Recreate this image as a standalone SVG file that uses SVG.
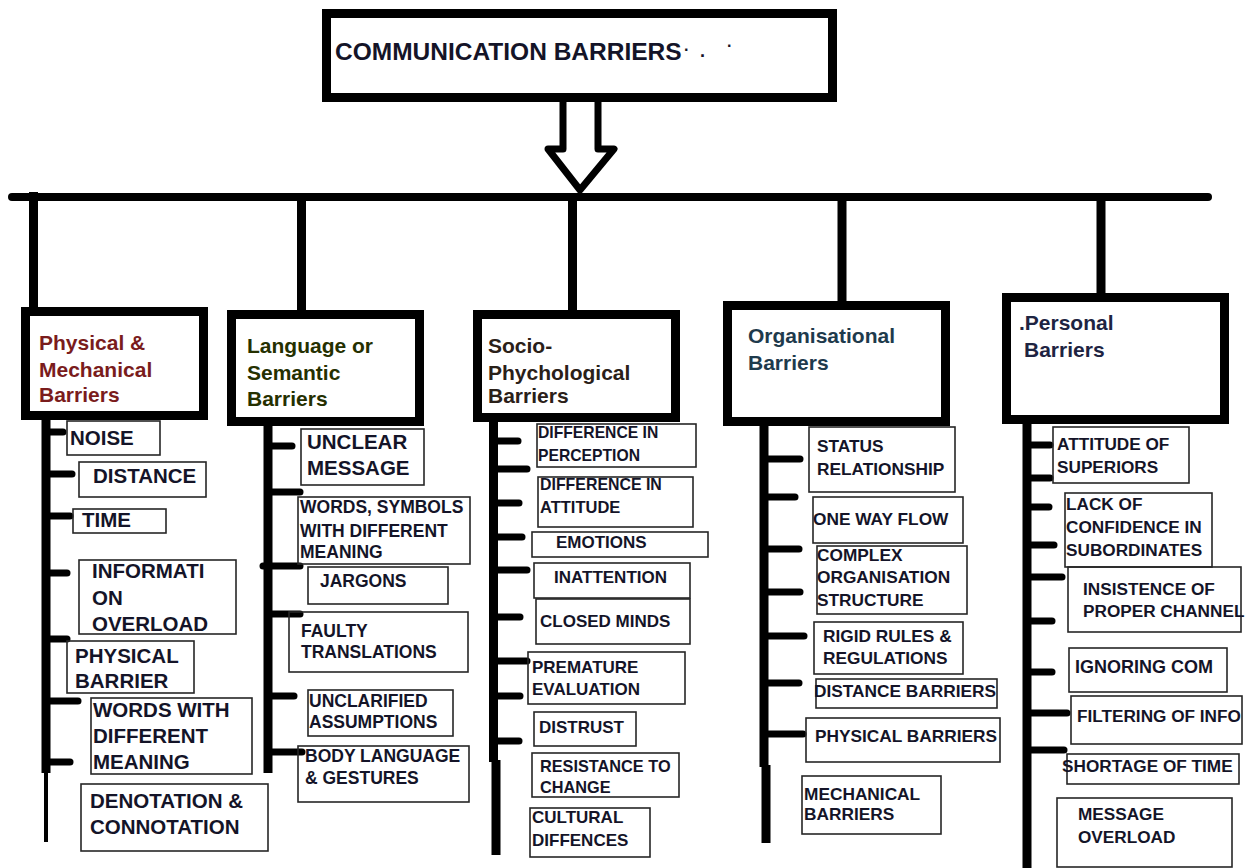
<svg xmlns="http://www.w3.org/2000/svg" width="1245" height="868" viewBox="0 0 1245 868">
<style>
.bx{fill:#fff;stroke:#000;stroke-width:9}
.sb{fill:none;stroke:#262626;stroke-width:1.6}
.stem{stroke:#000;stroke-width:9;fill:none}
.stub{stroke:#000;stroke-width:7;stroke-linecap:round}
.t{font-family:"Liberation Sans",Arial,sans-serif;font-weight:bold;fill:#141428}
.h{font-size:21px}
.c1{font-size:20.5px}
.c2{font-size:17.5px}
.c3{font-size:17px}
.c4{font-size:17.3px}
.c5{font-size:17.2px}
</style>
<rect width="1245" height="868" fill="#fff"/>
<g id="connectors">
  <line x1="12" y1="197" x2="1208" y2="197" stroke="#000" stroke-width="8" stroke-linecap="round"/>
  <line class="stem" x1="33.5" y1="192" x2="33.5" y2="308"/>
  <line class="stem" x1="301.5" y1="197" x2="301.5" y2="311"/>
  <line class="stem" x1="572.5" y1="197" x2="572.5" y2="311"/>
  <line class="stem" x1="842" y1="197" x2="842" y2="302"/>
  <line class="stem" x1="1101" y1="197" x2="1101" y2="294"/>
  <path d="M563,102 L563,149 L548,149 L580,190 L614,149 L598,149 L598,102" fill="#fff" stroke="#000" stroke-width="7" stroke-linejoin="round"/>
  <!-- stems -->
  <line class="stem" x1="46" y1="420" x2="46" y2="773" stroke-width="8"/>
  <line x1="46" y1="773" x2="46" y2="842" stroke="#000" stroke-width="4"/>
  <line class="stem" x1="268" y1="426" x2="268" y2="773"/>
  <line class="stem" x1="493.5" y1="422" x2="493.5" y2="762"/>
  <line class="stem" x1="496" y1="760" x2="496" y2="855" stroke-width="11"/>
  <line class="stem" x1="764" y1="426" x2="764" y2="767"/>
  <line class="stem" x1="766" y1="765" x2="766" y2="843" stroke-width="11"/>
  <line class="stem" x1="1027" y1="424" x2="1027" y2="868" stroke-width="10"/>
  <!-- stubs cat1 -->
  <line class="stub" x1="46" y1="432" x2="63" y2="432"/>
  <line class="stub" x1="46" y1="474" x2="72" y2="474"/>
  <line class="stub" x1="46" y1="516" x2="70" y2="516"/>
  <line class="stub" x1="46" y1="573" x2="67" y2="573"/>
  <line class="stub" x1="46" y1="639" x2="67" y2="639"/>
  <line class="stub" x1="46" y1="701" x2="78" y2="701"/>
  <line class="stub" x1="46" y1="762" x2="70" y2="762"/>
  <!-- stubs cat2 -->
  <line class="stub" x1="268" y1="446" x2="292" y2="446"/>
  <line class="stub" x1="268" y1="492" x2="300" y2="492"/>
  <line class="stub" x1="263" y1="566" x2="300" y2="566"/>
  <line class="stub" x1="268" y1="614" x2="300" y2="614"/>
  <line class="stub" x1="268" y1="696" x2="294" y2="696"/>
  <line class="stub" x1="268" y1="752" x2="302" y2="752"/>
  <!-- stubs cat3 -->
  <line class="stub" x1="494" y1="441" x2="518" y2="441"/>
  <line class="stub" x1="494" y1="469" x2="527" y2="469"/>
  <line class="stub" x1="494" y1="503" x2="519" y2="503"/>
  <line class="stub" x1="494" y1="537" x2="522" y2="537"/>
  <line class="stub" x1="494" y1="570" x2="527" y2="570"/>
  <line class="stub" x1="494" y1="617" x2="520" y2="617"/>
  <line class="stub" x1="494" y1="661" x2="527" y2="661"/>
  <line class="stub" x1="494" y1="696" x2="520" y2="696"/>
  <line class="stub" x1="494" y1="741" x2="519" y2="741"/>
  <!-- stubs cat4 -->
  <line class="stub" x1="764" y1="459" x2="800" y2="459"/>
  <line class="stub" x1="764" y1="497" x2="795" y2="497"/>
  <line class="stub" x1="764" y1="549" x2="799" y2="549"/>
  <line class="stub" x1="764" y1="592" x2="800" y2="592"/>
  <line class="stub" x1="764" y1="636" x2="804" y2="636"/>
  <line class="stub" x1="764" y1="683" x2="799" y2="683"/>
  <line class="stub" x1="764" y1="734" x2="803" y2="734"/>
  <!-- stubs cat5 -->
  <line class="stub" x1="1027" y1="445" x2="1050" y2="445"/>
  <line class="stub" x1="1027" y1="478" x2="1050" y2="478"/>
  <line class="stub" x1="1027" y1="507" x2="1049" y2="507"/>
  <line class="stub" x1="1027" y1="545" x2="1054" y2="545"/>
  <line class="stub" x1="1027" y1="577" x2="1062" y2="577"/>
  <line class="stub" x1="1027" y1="621" x2="1052" y2="621"/>
  <line class="stub" x1="1027" y1="672" x2="1052" y2="672"/>
  <line class="stub" x1="1027" y1="713" x2="1067" y2="713"/>
  <line class="stub" x1="1027" y1="750" x2="1064" y2="750"/>
</g>

<g id="title">
  <rect class="bx" x="326.5" y="13.5" width="506" height="84"/>
  <text class="t" x="335" y="60" font-size="24.5" fill="#111122">COMMUNICATION BARRIERS</text>
  <text class="t" x="684" y="55" font-size="16">·</text>
  <text class="t" x="700" y="57" font-size="18">.</text>
  <text class="t" x="727" y="47" font-size="16">.</text>
</g>

<g id="cat-physical">
  <rect class="bx" x="25.5" y="311.5" width="178" height="104"/>
  <text class="t h" style="fill:#7a1c1c" x="39" y="350">Physical &amp;</text>
  <text class="t h" style="fill:#7a1c1c" x="39" y="377">Mechanical</text>
  <text class="t h" style="fill:#7a1c1c" x="39" y="402">Barriers</text>
</g>
<g id="cat-language">
  <rect class="bx" x="231.5" y="314.5" width="188" height="107"/>
  <text class="t h" style="fill:#253000" x="247" y="353">Language or</text>
  <text class="t h" style="fill:#253000" x="247" y="380">Semantic</text>
  <text class="t h" style="fill:#253000" x="247" y="406">Barriers</text>
</g>
<g id="cat-socio">
  <rect class="bx" x="477.5" y="314.5" width="198" height="103"/>
  <text class="t h" style="fill:#2a2018" x="488" y="353">Socio-</text>
  <text class="t h" style="fill:#2a2018" x="488" y="380">Phychological</text>
  <text class="t h" style="fill:#2a2018" x="488" y="403">Barriers</text>
</g>
<g id="cat-organisational">
  <rect class="bx" x="727.5" y="305.5" width="218" height="116"/>
  <text class="t h" style="fill:#1e3a4c" x="748" y="343">Organisational</text>
  <text class="t h" style="fill:#1e3a4c" x="748" y="370">Barriers</text>
</g>
<g id="cat-personal">
  <rect class="bx" x="1006.5" y="297.5" width="218" height="122"/>
  <text class="t h" style="fill:#1e2442" x="1019" y="330">.Personal</text>
  <text class="t h" style="fill:#1e2442" x="1024" y="357">Barriers</text>
</g>

<!-- Physical & Mechanical items -->
<g id="noise"><rect class="sb" x="67" y="421" width="93" height="34"/><text class="t c1" x="70" y="445">NOISE</text></g>
<g id="distance"><rect class="sb" x="79" y="462" width="127" height="35"/><text class="t c1" x="93" y="483">DISTANCE</text></g>
<g id="time"><rect class="sb" x="73" y="509" width="93" height="24"/><text class="t c1" x="82" y="527">TIME</text></g>
<g id="info-overload"><rect class="sb" x="79" y="560" width="157" height="74"/><text class="t c1" x="92" y="578">INFORMATI</text><text class="t c1" x="92" y="605">ON</text><text class="t c1" x="92" y="631">OVERLOAD</text></g>
<g id="physical-barrier"><rect class="sb" x="67" y="641" width="127" height="52"/><text class="t c1" x="75" y="663">PHYSICAL</text><text class="t c1" x="75" y="688">BARRIER</text></g>
<g id="words-meaning"><rect class="sb" x="91" y="698" width="161" height="76"/><text class="t c1" x="93" y="717">WORDS WITH</text><text class="t c1" x="93" y="743">DIFFERENT</text><text class="t c1" x="93" y="769">MEANING</text></g>
<g id="denotation"><rect class="sb" x="81" y="784" width="187" height="67"/><text class="t c1" x="90" y="808">DENOTATION &amp;</text><text class="t c1" x="90" y="834">CONNOTATION</text></g>

<!-- Language items -->
<g id="unclear"><rect class="sb" x="301" y="429" width="123" height="56"/><text class="t c1" x="307" y="449">UNCLEAR</text><text class="t c1" x="307" y="475">MESSAGE</text></g>
<g id="words-symbols"><rect class="sb" x="298" y="497" width="172" height="67"/><text class="t c2" x="300" y="513">WORDS, SYMBOLS</text><text class="t c2" x="300" y="537">WITH DIFFERENT</text><text class="t c2" x="300" y="558">MEANING</text></g>
<g id="jargons"><rect class="sb" x="308" y="567" width="140" height="37"/><text class="t c2" x="320" y="587">JARGONS</text></g>
<g id="faulty"><rect class="sb" x="289" y="612" width="179" height="60"/><text class="t c2" x="301" y="637">FAULTY</text><text class="t c2" x="301" y="658">TRANSLATIONS</text></g>
<g id="unclarified"><rect class="sb" x="308" y="690" width="145" height="46"/><text class="t c2" x="309" y="707">UNCLARIFIED</text><text class="t c2" x="309" y="728">ASSUMPTIONS</text></g>
<g id="body-language"><rect class="sb" x="298" y="746" width="171" height="56"/><text class="t c2" x="305" y="762">BODY LANGUAGE</text><text class="t c2" x="305" y="784">&amp; GESTURES</text></g>

<!-- Socio items -->
<g id="diff-perception"><rect class="sb" x="537" y="424" width="159" height="43"/><text class="t" font-size="15.7" x="538" y="438">DIFFERENCE IN</text><text class="t" font-size="15.7" x="538" y="461">PERCEPTION</text></g>
<g id="diff-attitude"><rect class="sb" x="538" y="477" width="155" height="50"/><text class="t" font-size="15.9" x="540" y="490">DIFFERENCE IN</text><text class="t" font-size="16.5" x="540" y="513">ATTITUDE</text></g>
<g id="emotions"><rect class="sb" x="532" y="532" width="176" height="25"/><text class="t c3" x="556" y="548">EMOTIONS</text></g>
<g id="inattention"><rect class="sb" x="534" y="563" width="156" height="35"/><text class="t c3" x="554" y="583">INATTENTION</text></g>
<g id="closed-minds"><rect class="sb" x="536" y="599" width="154" height="45"/><text class="t c3" x="540" y="627">CLOSED MINDS</text></g>
<g id="premature"><rect class="sb" x="528" y="652" width="157" height="52"/><text class="t c3" x="532" y="673">PREMATURE</text><text class="t c3" x="532" y="695">EVALUATION</text></g>
<g id="distrust"><rect class="sb" x="534" y="712" width="102" height="34"/><text class="t c3" x="539" y="733">DISTRUST</text></g>
<g id="resistance"><rect class="sb" x="532" y="753" width="147" height="44"/><text class="t" font-size="16.3" x="540" y="772">RESISTANCE TO</text><text class="t" font-size="16.3" x="540" y="793">CHANGE</text></g>
<g id="cultural"><rect class="sb" x="530" y="808" width="120" height="49"/><text class="t c3" x="532" y="823">CULTURAL</text><text class="t c3" x="532" y="846">DIFFENCES</text></g>

<!-- Organisational items -->
<g id="status"><rect class="sb" x="809" y="427" width="146" height="65"/><text class="t c4" x="817" y="452">STATUS</text><text class="t c4" x="817" y="475">RELATIONSHIP</text></g>
<g id="one-way"><rect class="sb" x="813" y="497" width="150" height="46"/><text class="t c4" x="813" y="525">ONE WAY FLOW</text></g>
<g id="complex"><rect class="sb" x="817" y="546" width="150" height="68"/><text class="t c4" x="817" y="561">COMPLEX</text><text class="t c4" x="817" y="583">ORGANISATION</text><text class="t c4" x="817" y="606">STRUCTURE</text></g>
<g id="rigid"><rect class="sb" x="814" y="622" width="149" height="52"/><text class="t c4" x="823" y="642">RIGID RULES &amp;</text><text class="t c4" x="823" y="664">REGULATIONS</text></g>
<g id="distance-barriers"><rect class="sb" x="816" y="679" width="181" height="29"/><text class="t c4" x="814" y="697">DISTANCE BARRIERS</text></g>
<g id="physical-barriers"><rect class="sb" x="806" y="718" width="194" height="44"/><text class="t c4" x="815" y="742">PHYSICAL BARRIERS</text></g>
<g id="mechanical"><rect class="sb" x="802" y="776" width="139" height="58"/><text class="t c4" x="804" y="800">MECHANICAL</text><text class="t c4" x="804" y="820">BARRIERS</text></g>

<!-- Personal items -->
<g id="attitude-superiors"><rect class="sb" x="1053" y="427" width="136" height="56"/><text class="t c5" x="1057" y="450">ATTITUDE OF</text><text class="t c5" x="1057" y="473">SUPERIORS</text></g>
<g id="lack-confidence"><rect class="sb" x="1065" y="493" width="147" height="74"/><text class="t c5" x="1066" y="510">LACK OF</text><text class="t c5" x="1066" y="533">CONFIDENCE IN</text><text class="t c5" x="1066" y="556">SUBORDINATES</text></g>
<g id="insistence"><rect class="sb" x="1068" y="567" width="173" height="65"/><text class="t c5" x="1083" y="595">INSISTENCE OF</text><text class="t c5" x="1083" y="617">PROPER CHANNEL</text></g>
<g id="ignoring"><rect class="sb" x="1069" y="648" width="158" height="44"/><text class="t" font-size="18" x="1075" y="673">IGNORING COM</text></g>
<g id="filtering"><rect class="sb" x="1071" y="696" width="171" height="48"/><text class="t c5" x="1077" y="722">FILTERING OF INFO</text></g>
<g id="shortage"><rect class="sb" x="1067" y="754" width="172" height="30"/><text class="t c5" x="1062" y="772">SHORTAGE OF TIME</text></g>
<g id="message-overload"><rect class="sb" x="1057" y="798" width="175" height="69"/><text class="t c5" x="1078" y="820">MESSAGE</text><text class="t c5" x="1078" y="843">OVERLOAD</text></g>
</svg>
